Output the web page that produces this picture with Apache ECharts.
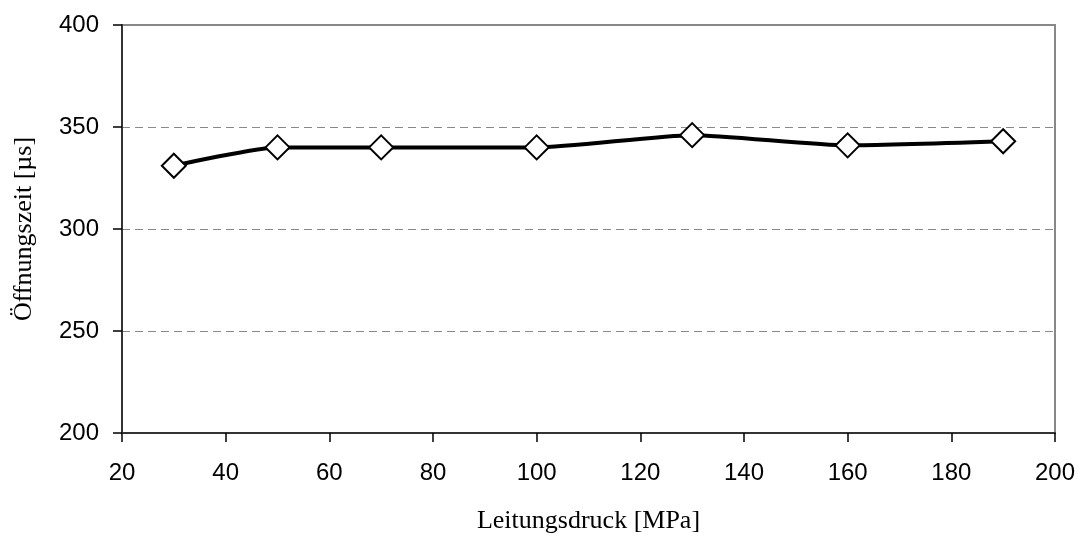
<!DOCTYPE html>
<html>
<head>
<meta charset="utf-8">
<script src="https://cdn.jsdelivr.net/npm/echarts@6/dist/echarts.min.js"></script>
<style>
  html, body { margin: 0; padding: 0; background: #fff; }
  #chart { width: 1082px; height: 536px; }
</style>
</head>
<body>
<div id="chart"></div>
<script>
// Line pressure [MPa] and measured opening time [µs]
const pressure = [30, 50, 70, 100, 130, 160, 190];
const openingTime = [331, 340, 340, 340, 346, 341, 343];

const xTitle = 'Leitungsdruck [MPa]';
const yTitle = 'Öffnungszeit [µs]';

const chart = echarts.init(document.getElementById('chart'), null, { renderer: 'canvas' });

const tickFont = { fontFamily: 'Liberation Sans, Arial, sans-serif', fontSize: 24, color: '#000' };
const titleFont = { fontFamily: 'Liberation Serif, Times New Roman, serif', fontSize: 26, color: '#000' };

chart.setOption({
  animation: false,
  backgroundColor: '#fff',
  grid: {
    left: 122, right: 27, top: 25, bottom: 103,
    containLabel: false,
    outerBoundsMode: 'none',
    show: true, borderColor: '#888', borderWidth: 2, backgroundColor: 'transparent'
  },
  xAxis: {
    type: 'value',
    min: 20, max: 200, interval: 20,
    name: xTitle,
    nameLocation: 'middle',
    nameGap: 75,
    nameTextStyle: titleFont,
    axisLine: { show: true, onZero: false, lineStyle: { color: '#333', width: 2 } },
    axisTick: { show: true, inside: false, length: 9, lineStyle: { color: '#000', width: 1.5 } },
    axisLabel: Object.assign({ margin: 28 }, tickFont),
    splitLine: { show: false }
  },
  yAxis: {
    type: 'value',
    min: 200, max: 400, interval: 50,
    name: yTitle,
    nameLocation: 'middle',
    nameGap: 85,
    nameRotate: 90,
    nameTextStyle: titleFont,
    axisLine: { show: true, onZero: false, lineStyle: { color: '#333', width: 2 } },
    axisTick: { show: true, inside: false, length: 9, lineStyle: { color: '#000', width: 1.5 } },
    axisLabel: Object.assign({ margin: 23 }, tickFont),
    splitLine: {
      show: true,
      showMinLine: false,
      showMaxLine: false,
      lineStyle: { color: '#888', type: [8, 5], width: 1 }
    }
  },
  series: [{
    type: 'line',
    data: pressure.map((p, i) => [p, openingTime[i]]),
    smooth: 0.2,
    lineStyle: { color: '#000', width: 4 },
    symbol: 'diamond',
    symbolSize: 24,
    itemStyle: { color: '#fff', borderColor: '#000', borderWidth: 2 },
    z: 3
  }]
});
</script>
</body>
</html>
